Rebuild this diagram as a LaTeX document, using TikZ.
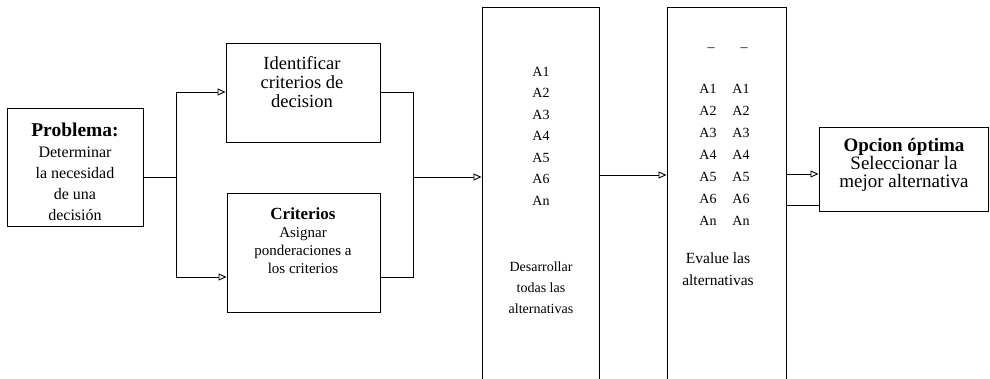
\documentclass[tikz,border=0pt]{standalone}
\usepackage{fontspec}
\setmainfont{Liberation Serif}
\usetikzlibrary{arrows.meta}
\begin{document}
\begin{tikzpicture}[x=1pt,y=-1pt,
  box/.style={draw,line width=0.9pt,inner sep=0pt},
  txt/.style={align=center,inner sep=0pt},
  flow/.style={line width=0.9pt},
  arr/.style={flow,-{Triangle[open,length=8pt,width=7pt,line width=0.9pt]}}]
\useasboundingbox (0,0) rectangle (990,378);

% process boxes
\node[box,minimum width=136pt,minimum height=118pt] (prob) at (75,167) {};
\node[box,minimum width=154pt,minimum height=99pt] (ident) at (303,92.5) {};
\node[box,minimum width=153pt,minimum height=119pt] (crit) at (303.5,252.5) {};
\node[box,minimum width=117pt,minimum height=383pt] (des) at (540.5,198.5) {};
\node[box,minimum width=119pt,minimum height=383pt] (ev) at (726.5,198.5) {};
\node[box,minimum width=169pt,minimum height=84pt] (opt) at (903.5,169) {};

% box texts
\node[txt,font=\fontsize{16}{21}\selectfont] (probt) at (75,172)
  {{\bfseries\fontsize{19.5}{21}\selectfont Problema:}\\Determinar\\la necesidad\\de una\\decisión};
\node[txt,font=\fontsize{18.5}{19}\selectfont] (identt) at (302,82)
  {Identificar\\criterios de\\decision};
\node[txt,font=\fontsize{15}{18}\selectfont] (critt) at (303,241)
  {{\bfseries\fontsize{17}{18}\selectfont Criterios}\\Asignar\\ponderaciones a\\los criterios};
\node[txt,font=\fontsize{14}{21.5}\selectfont] (desa) at (541,136)
  {A1\\A2\\A3\\A4\\A5\\A6\\An};
\node[txt,font=\fontsize{14}{21}\selectfont] (dest) at (541,288)
  {Desarrollar\\todas las\\alternativas};
\node[txt,font=\fontsize{14}{22}\selectfont] (bar1) at (711,50) {–};
\node[txt,font=\fontsize{14}{22}\selectfont] (bar2) at (744,50) {–};
\node[txt,font=\fontsize{14}{22}\selectfont] (eva1) at (708,155)
  {A1\\A2\\A3\\A4\\A5\\A6\\An};
\node[txt,font=\fontsize{14}{22}\selectfont] (eva2) at (741,155)
  {A1\\A2\\A3\\A4\\A5\\A6\\An};
\node[txt,font=\fontsize{15.5}{22}\selectfont] (evt) at (718,269)
  {Evalue las\\alternativas};
\node[txt,font=\fontsize{19}{18}\selectfont] (optt) at (904,165)
  {{\bfseries Opcion óptima}\\Seleccionar la\\mejor alternativa};

% junction points of the connectors
\coordinate (jl) at (176,177);
\coordinate (jlt) at (176,92);
\coordinate (jlb) at (176,277);
\coordinate (jr) at (413,177);
\coordinate (jrt) at (413,92);
\coordinate (jrb) at (413,277);
\coordinate (m1) at (630,175);
\coordinate (m2) at (800,174);
\coordinate (m3) at (800,205);

% connectors
\draw[flow] (prob.east |- jl) -- (jl);
\draw[arr] (jl) -- (jlt) -- (ident.west |- jlt);
\draw[arr] (jl) -- (jlb) -- (crit.west |- jlb);
\draw[flow] (ident.east |- jrt) -- (jrt) -- (jrb) -- (crit.east |- jrb);
\draw[arr] (jr) -- (des.west |- jr);
\draw[arr] (des.east |- m1) -- (ev.west |- m1);
\draw[arr] (ev.east |- m2) -- (opt.west |- m2);
\draw[flow] (ev.east |- m3) -- (opt.west |- m3);
\end{tikzpicture}
\end{document}
